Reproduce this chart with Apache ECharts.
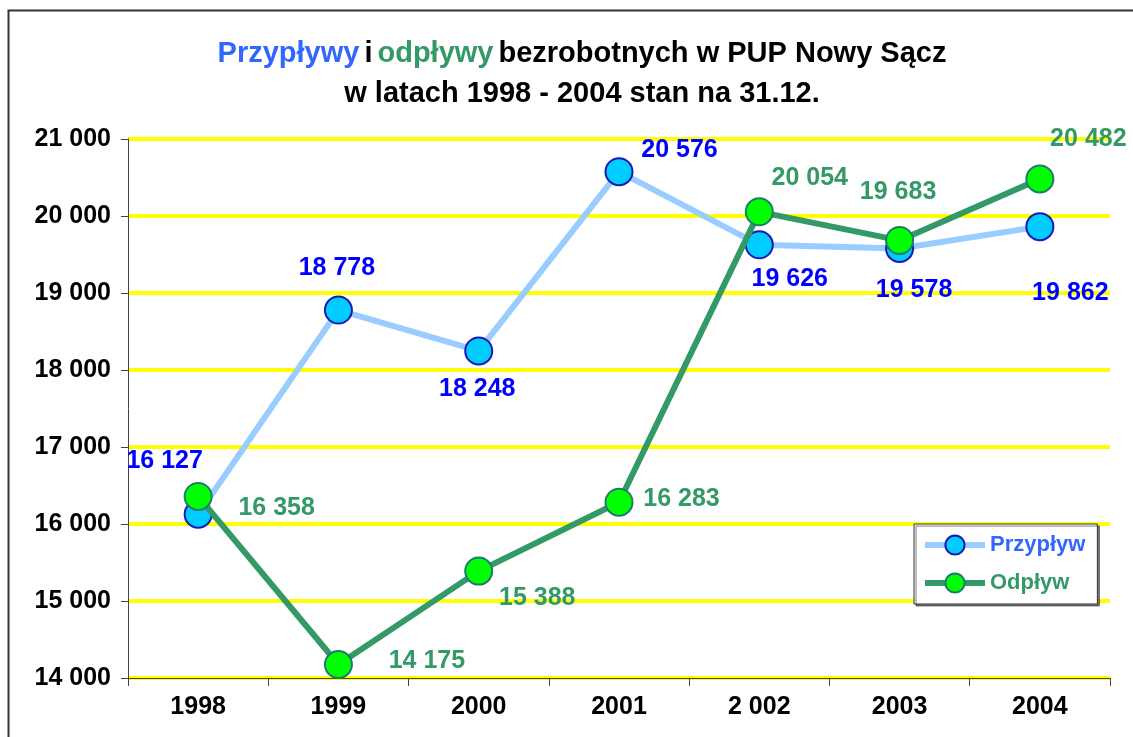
<!DOCTYPE html>
<html>
<head>
<meta charset="utf-8">
<script src="https://cdn.jsdelivr.net/npm/echarts@6/dist/echarts.min.js"></script>
<style>
  html, body { margin: 0; padding: 0; background: #fff; }
  #chart { width: 1133px; height: 737px; }
</style>
</head>
<body>
<div id="chart"></div>
<script>
// dane
var years = ['1998', '1999', '2000', '2001', '2 002', '2003', '2004'];
var przyplyw = [16127, 18778, 18248, 20576, 19626, 19578, 19862];
var odplyw = [16358, 14175, 15388, 16283, 20054, 19683, 20482];
var yTicks = [14000, 15000, 16000, 17000, 18000, 19000, 20000, 21000];

// przesunięcia etykiet względem punktu (styl)
var przyplywLabelShift = [[-32, -52], [0, -40], [0, 40], [62, -20], [32, 36], [16, 43], [32, 68]];
var odplywLabelShift = [[80, 13], [90, -2], [60, 28], [64, -2], [52, -32], [0, -47], [50, -38]];

var FONT = '"Liberation Sans", Arial, sans-serif';

function fmt(v) {
    return String(v).replace(/\B(?=(\d{3})+(?!\d))/g, ' ');
}

function buildData(values, shifts) {
    var out = [];
    for (var i = 0; i < values.length; i++) {
        out.push({
            value: values[i],
            label: { position: [13 + shifts[i][0], 13 + shifts[i][1]] }
        });
    }
    return out;
}

var chart = echarts.init(document.getElementById('chart'));

chart.setOption({
    backgroundColor: '#ffffff',
    animation: false,
    textStyle: { fontFamily: FONT },
    graphic: [{
        type: 'rect',
        shape: { x: 8.5, y: 10.5, width: 1140, height: 740 },
        style: { fill: 'none', stroke: '#333333', lineWidth: 2 },
        silent: true
    }],
    title: {
        text: '{b|Przypływy} {k|i} {g|odpływy} {k|bezrobotnych w PUP Nowy Sącz}\n{k|w latach 1998 - 2004 stan na 31.12.}',
        left: 577,
        textAlign: 'center',
        top: 29,
        textStyle: {
            rich: {
                b: { color: '#3366ff', fontSize: 29, fontWeight: 'bold', fontFamily: FONT, lineHeight: 40 },
                g: { color: '#339966', fontSize: 29, fontWeight: 'bold', fontFamily: FONT, lineHeight: 40 },
                k: { color: '#000000', fontSize: 29, fontWeight: 'bold', fontFamily: FONT, lineHeight: 40 }
            }
        }
    },
    legend: {
        orient: 'vertical',
        left: 914,
        top: 524,
        padding: [10, 12, 10, 8],
        itemGap: 16,
        itemWidth: 60,
        itemHeight: 24,
        backgroundColor: '#ffffff',
        borderColor: '#333333',
        borderWidth: 1,
        shadowColor: 'rgba(0,0,0,0.5)',
        shadowOffsetX: 2,
        shadowOffsetY: 2,
        data: [
            { name: 'Przypływ', textStyle: { color: '#3366ff' }, lineStyle: { width: 6 } },
            { name: 'Odpływ', textStyle: { color: '#339966' }, lineStyle: { width: 6 } }
        ],
        textStyle: { fontSize: 22, fontWeight: 'bold', fontFamily: FONT }
    },
    grid: {
        left: 128,
        right: 23,
        top: 139,
        bottom: 59,
        containLabel: false
    },
    xAxis: {
        type: 'category',
        data: years,
        boundaryGap: true,
        axisLine: { lineStyle: { color: '#444444', width: 1 } },
        axisTick: { show: true, length: 8, alignWithLabel: false, lineStyle: { color: '#444444' } },
        axisLabel: { color: '#000', fontSize: 25, fontWeight: 'bold', fontFamily: FONT, margin: 17 },
        splitLine: { show: false }
    },
    yAxis: {
        type: 'value',
        min: yTicks[0],
        max: yTicks[yTicks.length - 1],
        interval: 1000,
        axisLine: { show: true, lineStyle: { color: '#444444', width: 1 } },
        axisTick: { show: true, length: 7, lineStyle: { color: '#444444' } },
        axisLabel: {
            color: '#000', fontSize: 25, fontWeight: 'bold', fontFamily: FONT, margin: 17,
            formatter: function (v) { return fmt(v); }
        },
        splitLine: { show: true, lineStyle: { color: '#ffff00', width: 4 } }
    },
    series: [
        {
            name: 'Przypływ',
            type: 'line',
            data: buildData(przyplyw, przyplywLabelShift),
            symbol: 'circle',
            symbolSize: 27,
            lineStyle: { color: '#99ccff', width: 6 },
            itemStyle: { color: '#00ccff', borderColor: '#1a1ab0', borderWidth: 2 },
            label: {
                show: true,
                align: 'center',
                verticalAlign: 'middle',
                color: '#0000ff',
                fontSize: 25,
                fontWeight: 'bold',
                fontFamily: FONT,
                formatter: function (p) { return fmt(p.value); }
            },
            z: 3
        },
        {
            name: 'Odpływ',
            type: 'line',
            data: buildData(odplyw, odplywLabelShift),
            symbol: 'circle',
            symbolSize: 27,
            lineStyle: { color: '#339966', width: 6 },
            itemStyle: { color: '#00ff00', borderColor: '#1f7a70', borderWidth: 2 },
            label: {
                show: true,
                align: 'center',
                verticalAlign: 'middle',
                color: '#339966',
                fontSize: 25,
                fontWeight: 'bold',
                fontFamily: FONT,
                formatter: function (p) { return fmt(p.value); }
            },
            z: 4
        }
    ]
});
</script>
</body>
</html>
